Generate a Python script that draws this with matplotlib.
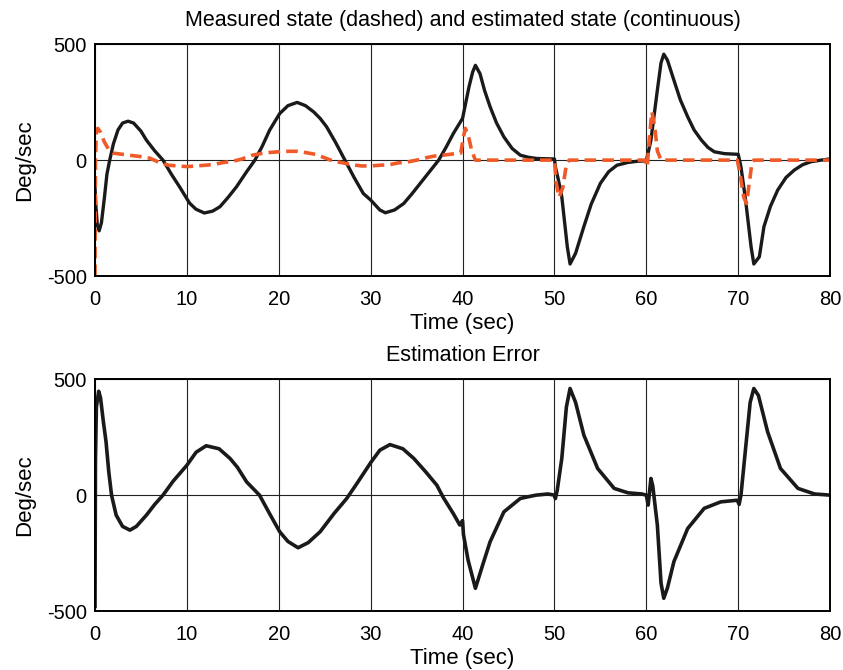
import numpy as np
import matplotlib.pyplot as plt

plt.rcParams['font.family'] = ['Liberation Sans', 'DejaVu Sans']
plt.rcParams['axes.unicode_minus'] = False

# estimated state (black, top)
T_EST = [0, 0.1, 0.25, 0.45, 0.7, 1.0, 1.3, 1.6, 2.0, 2.5, 3.0, 3.6, 4.2, 5.0, 5.6,
         6.5, 7.4, 8.3, 9.2, 10.3, 11.0, 11.9, 12.8, 13.6, 14.5, 15.4, 16.5, 17.4,
         18.2, 19.0, 20.1, 21.0, 22.0, 22.9, 23.8, 24.5, 25.2, 26.2, 27.2, 28.2,
         29.2, 30.0, 31.0, 31.6, 32.6, 33.6, 34.5, 35.4, 36.4, 37.4, 38.2, 39.0,
         40.0, 40.7, 41.1, 41.4, 41.9, 42.4, 43.0, 43.7, 44.5, 45.4, 46.3, 47.2,
         48.1, 49.0, 50.0, 50.1, 50.4, 50.8, 51.4, 51.7, 52.3, 53.2, 54.0, 55.0,
         55.9, 56.8, 58.0, 59.0, 60.0, 60.5, 61.2, 61.6, 61.9, 62.3, 63.0, 63.7,
         64.5, 65.2, 66.0, 66.7, 67.4, 68.5, 69.5, 70.0, 70.3, 70.8, 71.4, 71.7,
         72.3, 72.8, 73.5, 74.3, 75.2, 76.1, 77.0, 77.9, 79.0, 80.0]
V_EST = [-120, -200, -280, -305, -270, -170, -60, 0, 70, 130, 160, 168, 160, 125, 86,
         40, 0, -60, -115, -186, -212, -228, -220, -201, -160, -115, -50, 0,
         60, 129, 201, 235, 249, 235, 208, 180, 144, 75, 0, -75,
         -144, -172, -215, -227, -215, -187, -145, -100, -50, 0, 55, 115,
         180, 316, 380, 409, 373, 300, 230, 160, 100, 50, 21, 12,
         7, 6, 5, -29, -80, -158, -374, -448, -402, -287, -190, -100,
         -50, -22, -10, -5, -3, 86, 302, 420, 457, 431, 345, 260,
         187, 130, 86, 55, 36, 28, 26, 25, -29, -172, -374, -448,
         -417, -287, -200, -129, -75, -43, -20, -7, 0, 5]

# measured state (red dashed, top)
T_MEAS = [0, 0.05, 0.15, 0.3, 0.6, 1.0, 1.5, 2.0, 3.0, 4.0, 5.0, 6.0, 7.0, 8.0, 9.0,
          10.0, 11.0, 12.0, 13.0, 14.0, 15.0, 16.0, 17.0, 18.0, 19.0, 20.0, 21.0,
          22.0, 23.0, 24.0, 25.0, 26.0, 27.0, 28.0, 29.0, 30.0, 31.0, 32.0, 33.0,
          34.0, 35.0, 36.0, 37.0, 38.0, 39.0, 39.8, 40.1, 40.3, 40.6, 41.0, 41.4,
          50.0, 50.2, 50.5, 50.9, 51.3, 51.6, 59.9, 60.1, 60.3, 60.6, 60.9, 61.2,
          61.6, 69.9, 70.2, 70.6, 70.9, 71.2, 71.5, 71.7, 80.0]
V_MEAS = [-500, 0, 120, 137, 120, 80, 45, 30, 25, 20, 15, 8, -10, -22, -25,
          -28, -25, -22, -18, -10, -5, 5, 20, 28, 33, 36, 38,
          38, 32, 25, 10, -5, -12, -20, -25, -25, -22, -20, -12,
          -8, 0, 10, 18, 22, 27, 30, 100, 137, 110, 40, 0,
          0, -100, -160, -120, -20, 0, 0, -30, 80, 208, 150, 40,
          0, 0, -60, -160, -187, -100, -10, 0, 0]

# estimation error (black, bottom)
T_ERR = [0, 0.05, 0.15, 0.4, 0.6, 0.9, 1.2, 1.5, 1.8, 2.3, 3.0, 3.8, 4.5, 5.6,
         6.5, 7.4, 8.5, 10.0, 11.0, 12.1, 13.5, 14.7, 15.5, 16.5, 17.9, 19.0,
         20.1, 21.0, 22.1, 23.2, 24.5, 26.0, 27.4, 28.5, 30.0, 31.0, 32.1, 33.5,
         34.7, 36.0, 37.2, 37.9, 39.0, 39.7, 40.0, 40.1, 40.6, 41.4, 42.2, 43.0,
         44.5, 46.3, 48.0, 49.3, 50.0, 50.1, 50.3, 50.8, 51.3, 51.7, 52.3, 53.2,
         54.7, 56.5, 58.0, 59.5, 60.0, 60.2, 60.5, 60.7, 61.2, 61.6, 61.9, 62.3,
         63.0, 64.5, 66.3, 68.1, 69.9, 70.1, 70.3, 70.8, 71.3, 71.7, 72.2, 73.2,
         74.6, 76.5, 78.3, 80.0]
V_ERR = [-480, 150, 380, 448, 420, 320, 230, 100, 0, -86, -135, -151, -135, -86,
         -40, 0, 60, 129, 185, 213, 200, 158, 120, 57, 0, -80,
         -158, -200, -227, -205, -158, -80, -14, 50, 140, 194, 218, 200,
         158, 100, 43, -10, -80, -129, -110, -170, -280, -402, -300, -201,
         -72, -14, 0, 5, 0, -15, 20, 158, 380, 460, 400, 259,
         115, 29, 10, 5, 0, -43, 72, 40, -129, -380, -445, -400,
         -287, -144, -57, -29, -22, -40, 0, 201, 400, 460, 430, 273,
         115, 29, 5, 0]

fig = plt.figure(figsize=(8.43, 6.70), dpi=100)
ax1 = fig.add_axes([0.1127, 0.588, 0.872, 0.346])
ax2 = fig.add_axes([0.1127, 0.088, 0.872, 0.346])

ax1.plot(T_EST, V_EST, color='#1a1a1a', lw=2.4)
ax1.plot(T_MEAS, V_MEAS, color='#f05a28', lw=2.6, ls=(0, (3.2, 1.7)))
ax1.set_title('Measured state (dashed) and estimated state (continuous)', fontsize=15.5, pad=13)

ax2.plot(T_ERR, V_ERR, color='#1a1a1a', lw=2.6)
ax2.set_title('Estimation Error', fontsize=15.5, pad=13)

for ax in (ax1, ax2):
    ax.set_xlim(0, 80)
    ax.set_ylim(-500, 500)
    ax.set_xticks(np.arange(0, 81, 10))
    ax.set_yticks([-500, 0, 500])
    ax.grid(True, color='#222222', lw=0.8)
    ax.tick_params(direction='in', length=0, labelsize=14.5, pad=6)
    ax.tick_params(axis='x', pad=10)
    ax.set_xlabel('Time (sec)', fontsize=16, labelpad=3)
    ax.set_ylabel('Deg/sec', fontsize=16, labelpad=8)
    for s in ax.spines.values():
        s.set_linewidth(1.4)

fig.savefig('out.png', dpi=100)
